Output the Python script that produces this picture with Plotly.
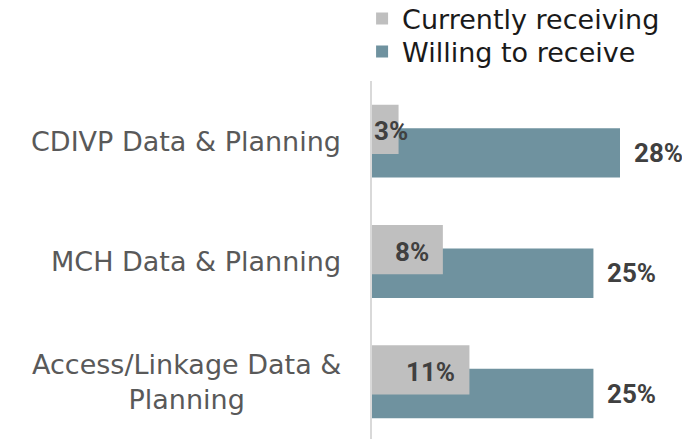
import plotly.graph_objects as go

categories = ["CDIVP Data & Planning", "MCH Data & Planning", "Access/Linkage Data &<br>Planning"]
currently_receiving = [3, 8, 11]
willing_to_receive = [28, 25, 25]
series_names = ["Currently receiving", "Willing to receive"]

GRAY = "#BFBFBF"
BLUE = "#6F929F"
BAR_W = 0.41
OFF_GRAY = -0.303
OFF_BLUE = -0.107
X_MAX = 35
L_MARGIN = 372
W, H = 682, 439
T_MARGIN = 81

ypos = list(range(len(categories)))

fig = go.Figure()
# blue first so gray is drawn on top
fig.add_trace(go.Bar(
    y=ypos, x=willing_to_receive, orientation="h", name=series_names[1],
    marker=dict(color=BLUE, line=dict(width=0)),
    width=[BAR_W] * len(ypos), offset=[OFF_BLUE] * len(ypos),
    legend="legend2", hoverinfo="skip",
))
fig.add_trace(go.Bar(
    y=ypos, x=currently_receiving, orientation="h", name=series_names[0],
    marker=dict(color=GRAY, line=dict(width=0)),
    width=[BAR_W] * len(ypos), offset=[OFF_GRAY] * len(ypos),
    legend="legend", hoverinfo="skip",
))

px_per_unit = (W - L_MARGIN) / X_MAX
label_font = dict(family="Roboto", size=26, color="#404040", weight="bold")
annotations = []
for i, (g, b) in enumerate(zip(currently_receiving, willing_to_receive)):
    gtxt = f"{g}%"
    est_w = len(gtxt) * 15 + 3
    if g * px_per_unit - 12 < est_w:
        annotations.append(dict(x=0, y=i + OFF_GRAY + BAR_W / 2, xref="x", yref="y",
                                text=gtxt, showarrow=False, xanchor="left", yshift=-2,
                                font=label_font))
    else:
        annotations.append(dict(x=g, y=i + OFF_GRAY + BAR_W / 2, xref="x", yref="y",
                                text=gtxt, showarrow=False, xanchor="right", xshift=-12,
                                yshift=-2, font=label_font))
    annotations.append(dict(x=b, y=i + OFF_BLUE + BAR_W / 2, xref="x", yref="y",
                            text=f"{b}%", showarrow=False, xanchor="left", xshift=12,
                            font=label_font))
    annotations.append(dict(x=0, y=i, xref="paper", yref="y", text=categories[i],
                            showarrow=False, xanchor="right", xshift=-29, align="center",
                            font=dict(family="DejaVu Sans", size=27, color="#595959")))

legend_common = dict(xanchor="left", yanchor="middle",
                     font=dict(family="DejaVu Sans", size=27, color="#1a1a1a"),
                     bgcolor="rgba(0,0,0,0)", borderwidth=0, itemclick=False)
plot_h = H - T_MARGIN
fig.update_layout(
    width=W, height=H,
    margin=dict(l=L_MARGIN, r=0, t=T_MARGIN, b=0, pad=0, autoexpand=False),
    paper_bgcolor="white", plot_bgcolor="white",
    barmode="overlay",
    showlegend=True,
    legend=dict(x=-0.032, y=(H - 19) / plot_h, **legend_common),
    legend2=dict(x=-0.032, y=(H - 52) / plot_h, **legend_common),
    xaxis=dict(range=[0, X_MAX], visible=False, fixedrange=True),
    yaxis=dict(range=[2.476, -0.5], showticklabels=False, showgrid=False, zeroline=False,
               showline=True, linecolor="#D9D9D9", linewidth=1.5, ticks="", fixedrange=True),
    annotations=annotations,
)

fig.write_html("out.html", config={"displayModeBar": False},
               post_script="document.body.style.margin='0';")
